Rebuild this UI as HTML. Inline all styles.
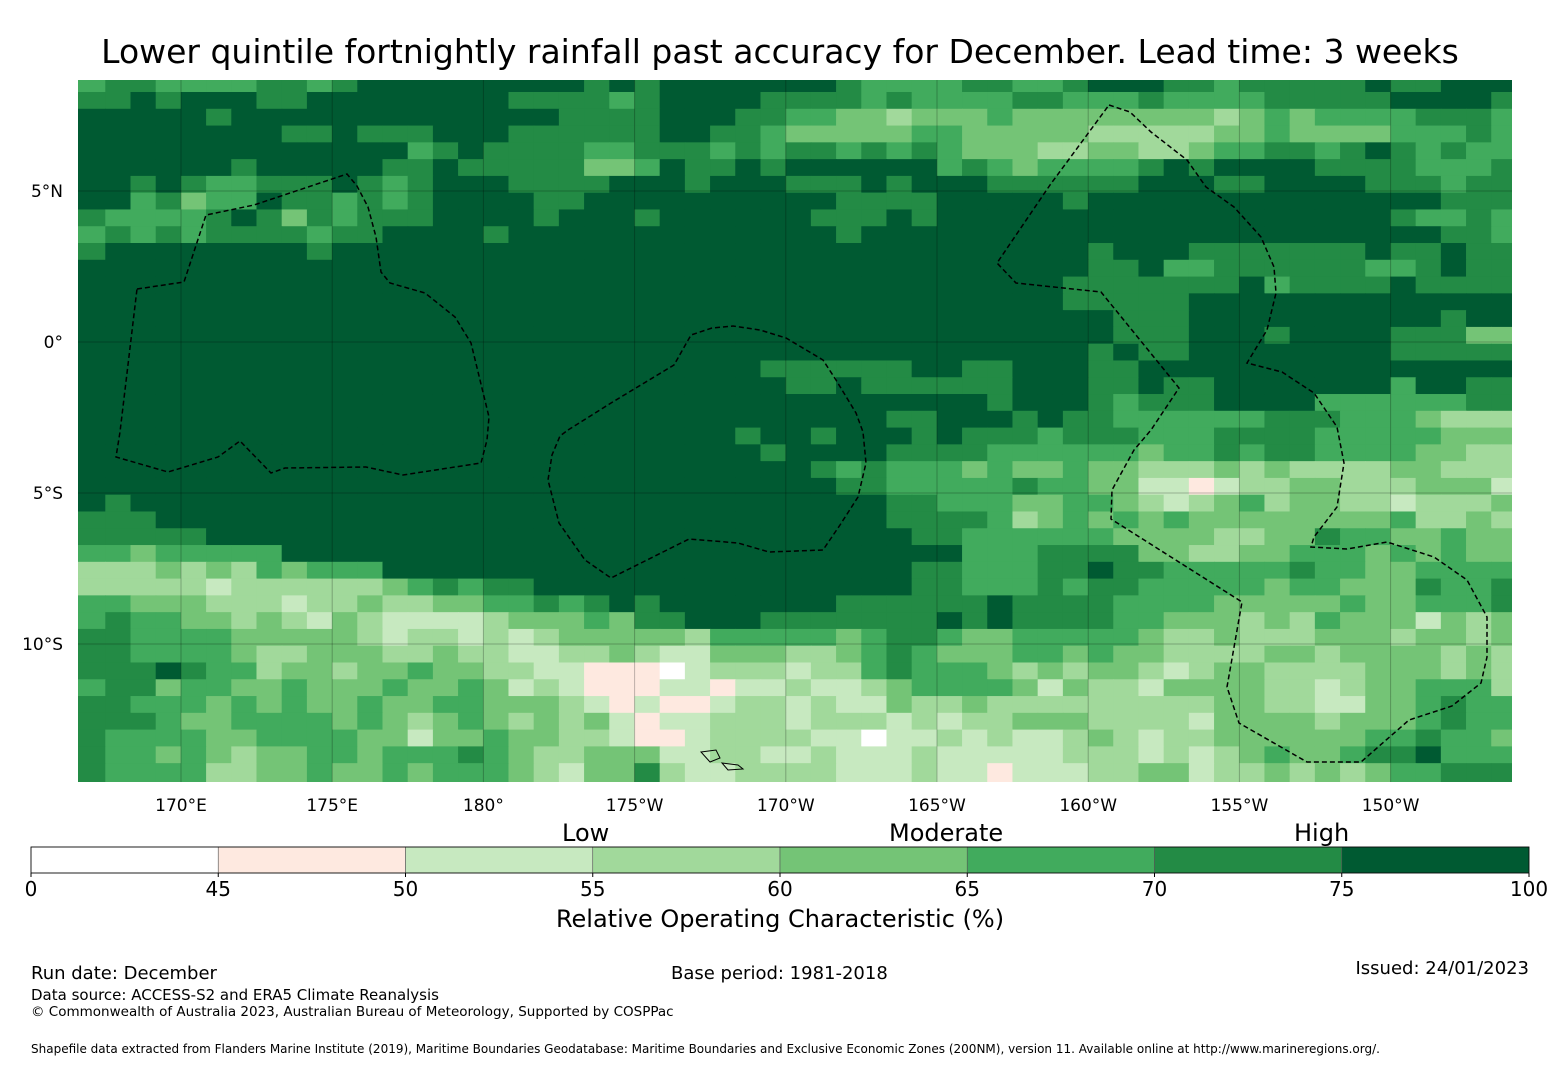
<!DOCTYPE html>
<html><head><meta charset="utf-8">
<style>
html,body{margin:0;padding:0;background:#fff;}
body{width:1560px;height:1065px;position:relative;overflow:hidden;font-family:"DejaVu Sans","Liberation Sans",sans-serif;color:#000;}
.t{position:absolute;white-space:nowrap;}
</style></head>
<body>
<div class="t" style="left:0;width:1560px;text-align:center;top:32px;font-size:33px;">Lower quintile fortnightly rainfall past accuracy for December. Lead time: 3 weeks</div>
<svg id="chart" width="1560" height="1065" style="position:absolute;left:0;top:0" xmlns="http://www.w3.org/2000/svg">
<defs><clipPath id="mapclip"><rect x="78" y="80" width="1434" height="702"/></clipPath></defs>
<g id="cells" clip-path="url(#mapclip)"></g>
<g id="grid" clip-path="url(#mapclip)"></g>
<g id="eez" clip-path="url(#mapclip)" fill="none" stroke="#000" stroke-width="1.5" stroke-dasharray="5,3">
<polyline points="137,289 184,282 206,215 254,205 347,174 357,186 368,207 376,237 381,272 390,283 425,293 455,317 471,343 480,380 489,417 487,440 481,463 403,475 366,467 285,468 271,473 240,441 218,457 168,472 116,457 120,432 137,289"/>
<polyline points="568,430 611,403 674,365 691,335 712,328 733,326 760,330 786,338 823,360 836,380 856,413 863,432 866,463 858,497 840,525 823,550 769,552 738,543 689,539 611,578 585,560 559,523 548,480 552,455 560,436 568,430"/>
<polyline points="1109,105 1130,112 1151,132 1187,160 1206,187 1234,207 1261,237 1274,267 1276,293 1267,330 1247,363 1282,372 1314,393 1337,427 1344,463 1337,507 1314,537 1311,547 1347,549 1387,542 1434,557 1467,580 1487,617 1487,657 1481,683 1452,706 1409,720 1361,762 1307,762 1239,723 1227,687 1242,602 1111,519 1112,490 1134,450 1151,430 1179,388 1140,340 1101,292 1016,283 997,263 1050,185 1109,105"/>
</g>
<g fill="none" stroke="#000" stroke-width="1">
<path d="M701,752 L716,750 L720,758 L710,762 Z M722,763 L738,765 L743,769 L728,770 Z"/>
</g>
<g id="axes" font-size="17" font-family="DejaVu Sans, Liberation Sans, sans-serif"></g>
<g id="cbar"></g>
</svg>
<div class="t" style="left:562px;top:819px;font-size:24px;">Low</div>
<div class="t" style="left:889px;top:819px;font-size:24px;">Moderate</div>
<div class="t" style="left:1294px;top:819px;font-size:24px;">High</div>
<div class="t" style="left:0;width:1560px;text-align:center;top:905px;font-size:24px;">Relative Operating Characteristic (%)</div>
<div class="t" style="left:31px;top:963px;font-size:18px;">Run date: December</div>
<div class="t" style="left:671px;top:963px;font-size:18px;">Base period: 1981-2018</div>
<div class="t" style="right:31px;top:958px;font-size:18px;">Issued: 24/01/2023</div>
<div class="t" style="left:31px;top:986px;font-size:15px;">Data source: ACCESS-S2 and ERA5 Climate Reanalysis</div>
<div class="t" style="left:31px;top:1004px;font-size:13.5px;">© Commonwealth of Australia 2023, Australian Bureau of Meteorology, Supported by COSPPac</div>
<div class="t" style="left:31px;top:1042px;font-size:12px;">Shapefile data extracted from Flanders Marine Institute (2019), Maritime Boundaries Geodatabase: Maritime Boundaries and Exclusive Economic Zones (200NM), version 11. Available online at http://www.marineregions.org/.</div>
<script>
// Colour-class index per grid cell (0 = <45 ... 7 = 75-100), rows north->south, cols west->east
const rows = [
"5665555665677777777"+"7676777777765555665"+"5677766566666766777",
"6676777667777777766"+"6656777766665655556"+"6555655556666677776",
"7777767777777777777"+"6666777665544344454"+"4444444345455556665",
"7777777766766677766"+"6666776654444455444"+"4433333445444455565",
"7777777777777567666"+"6556665656656565444"+"3344334556656765655",
"7777776777776676666"+"6445766767777775654"+"5555676777766665556",
"7767655666765677766"+"6677767776667677766"+"6666777667777666566",
"7756455766565677776"+"6777777777766667777"+"7677777777777777666",
"6555567646566677776"+"7776777777666767777"+"7777777777777765565",
"5656566665667777677"+"7777777777767777777"+"7777777777777777665",
"6777777776777777777"+"7777777777777777777"+"7767776666666766766",
"7777777777777777777"+"7777777777777777777"+"7766755666666556766",
"7777777777777777777"+"7777777777777777777"+"7666666675666676666",
"7777777777777777777"+"7777777777777777777"+"7666667777777777777",
"7777777777777777777"+"7777777777777777777"+"7776667777777777677",
"7777777777777777777"+"7777777777777777777"+"7776667776777766644",
"7777777777777777777"+"7777777777777777777"+"7767667777777766666",
"7777777777777777777"+"7777777766666677667"+"7766777777777777777",
"7777777777777777777"+"7777777776676666667"+"7766766777777757766",
"7777777777777777777"+"7777777777777777767"+"7765666777755555566",
"7777777777777777777"+"7777777777777667776"+"7665555556665554333",
"7777777777777777777"+"7777777677677767666"+"5666555666655555444",
"7777777777777777777"+"7777777767777666655"+"5555455656655554433",
"7777777777777777777"+"7777777777656555454"+"4544333434333344333",
"7777777777777777777"+"7777777777766555556"+"5544221233443334442",
"7677777777777777777"+"7777777777777665554"+"4554323453443323334",
"6667777777777777777"+"7777777777777666653"+"4545454444444453343",
"6666677777777777777"+"7777777777777766555"+"5554444334465544544",
"5545555577777777777"+"7777777777777777555"+"6666443344555454544",
"3334343545557777777"+"7777777777777766555"+"6676655555655445555",
"3333323333334565667"+"7777777777777766555"+"6566555554554446556",
"5544433323343344556"+"5676777777766666676"+"6665555444445445556",
"5655443432432222344"+"4546677766666667676"+"6665544434354442434",
"6655554444432332323"+"4444435555545665445"+"5555433433344434434",
"6655554334443343322"+"3343224443345654445"+"5454433334434444343",
"6667655344344544332"+"2111023332335655543"+"4344323443333444343",
"5664554454445445423"+"2111221223223455554"+"2433244443323445553",
"6655545454454455444"+"3212112332322433433"+"3333333443322445655",
"6665445555454345434"+"3421223332333232334"+"4433332444434445655",
"6555544555544244544"+"3321123333220223232"+"2343233444444556554",
"6554543445545556543"+"3444223322322232222"+"2333232345445667555",
"6555533445445455543"+"2446322333322232212"+"2233442334343455666"
];
const classColors = ["#ffffff","#fee9e0","#c7e9c0","#a1d99b","#74c476","#41ab5d","#238b45","#005a32"];
const boundaries = [0,45,50,55,60,65,70,75,100];
const lonTicks = [170,175,180,185,190,195,200,205,210];
const lonTickLabels = ["170°E","175°E","180°","175°W","170°W","165°W","160°W","155°W","150°W"];
const latTicks = [5,0,-5,-10];
const latTickLabels = ["5°N","0°","5°S","10°S"];

const NS="http://www.w3.org/2000/svg";
const PXDEG_X=30.24, PXDEG_Y=30.2;
function xScale(lon){return 181+(lon-170)*PXDEG_X;}
function yScale(lat){return 342-lat*PXDEG_Y;}
const DLON=0.8333, DLAT=0.5556;
const LON0=170-(181-80.1)/PXDEG_X;
const LAT1=(342-92)/PXDEG_Y;

const gCells=document.getElementById('cells');
rows.forEach(function(row,r){
  const latTop = r===0 ? LAT1+DLAT : LAT1-(r-1)*DLAT;
  const latBot = latTop-DLAT;
  for(let c=0;c<row.length;c++){
    const v=+row[c];
    let x0=xScale(LON0+c*DLON), x1=xScale(LON0+(c+1)*DLON);
    let y0=yScale(latTop), y1=yScale(latBot);
    if(c===0) x0-=3;
    if(r===rows.length-1) y1+=4;
    const el=document.createElementNS(NS,'rect');
    el.setAttribute('x',x0.toFixed(2));
    el.setAttribute('y',y0.toFixed(2));
    el.setAttribute('width',(x1-x0+0.6).toFixed(2));
    el.setAttribute('height',(y1-y0+0.6).toFixed(2));
    el.setAttribute('fill',classColors[v]);
    
    
    gCells.appendChild(el);
  }
});

const gGrid=document.getElementById('grid');
const gAxes=document.getElementById('axes');
lonTicks.forEach(function(lon,i){
  const x=xScale(lon);
  const ln=document.createElementNS(NS,'line');
  ln.setAttribute('x1',x);ln.setAttribute('x2',x);ln.setAttribute('y1',80);ln.setAttribute('y2',782);
  ln.setAttribute('stroke','#000');ln.setAttribute('stroke-opacity','0.25');ln.setAttribute('stroke-width','1');
  
  
  gGrid.appendChild(ln);
  const t=document.createElementNS(NS,'text');
  t.setAttribute('x',x);t.setAttribute('y',811);t.setAttribute('text-anchor','middle');
  t.textContent=lonTickLabels[i];
  
  
  gAxes.appendChild(t);
});
latTicks.forEach(function(lat,i){
  const y=yScale(lat);
  const ln=document.createElementNS(NS,'line');
  ln.setAttribute('x1',78);ln.setAttribute('x2',1512);ln.setAttribute('y1',y);ln.setAttribute('y2',y);
  ln.setAttribute('stroke','#000');ln.setAttribute('stroke-opacity','0.25');ln.setAttribute('stroke-width','1');
  
  
  gGrid.appendChild(ln);
  const t=document.createElementNS(NS,'text');
  t.setAttribute('x',63);t.setAttribute('y',y+6);t.setAttribute('text-anchor','end');
  t.textContent=latTickLabels[i];
  
  
  gAxes.appendChild(t);
});

// colorbar
const gC=document.getElementById('cbar');
const CB_X0=31, CB_X1=1529, CB_Y=847, CB_H=26;
function cbScale(i){return CB_X0+(CB_X1-CB_X0)*i/(boundaries.length-1);}
for(let i=0;i<boundaries.length-1;i++){
  const r=document.createElementNS(NS,'rect');
  r.setAttribute('x',cbScale(i));r.setAttribute('y',CB_Y);
  r.setAttribute('width',cbScale(i+1)-cbScale(i));r.setAttribute('height',CB_H);
  r.setAttribute('fill',classColors[i]);
  r.setAttribute('stroke','#555');r.setAttribute('stroke-width','0.6');
  
  
  gC.appendChild(r);
}
const fr=document.createElementNS(NS,'rect');
fr.setAttribute('x',CB_X0);fr.setAttribute('y',CB_Y);fr.setAttribute('width',CB_X1-CB_X0);fr.setAttribute('height',CB_H);
fr.setAttribute('fill','none');fr.setAttribute('stroke','#000');fr.setAttribute('stroke-width','0.8');


gC.appendChild(fr);
boundaries.forEach(function(b,i){
  const x=cbScale(i);
  const tk=document.createElementNS(NS,'line');
  tk.setAttribute('x1',x);tk.setAttribute('x2',x);tk.setAttribute('y1',CB_Y+CB_H);tk.setAttribute('y2',CB_Y+CB_H+4);
  tk.setAttribute('stroke','#000');
  
  
  gC.appendChild(tk);
  const t=document.createElementNS(NS,'text');
  t.setAttribute('x',x);t.setAttribute('y',896);t.setAttribute('text-anchor','middle');
  t.setAttribute('font-size','20');t.setAttribute('font-family','DejaVu Sans, Liberation Sans, sans-serif');
  t.textContent=String(b);
  
  
  gC.appendChild(t);
});
</script>
</body></html>
